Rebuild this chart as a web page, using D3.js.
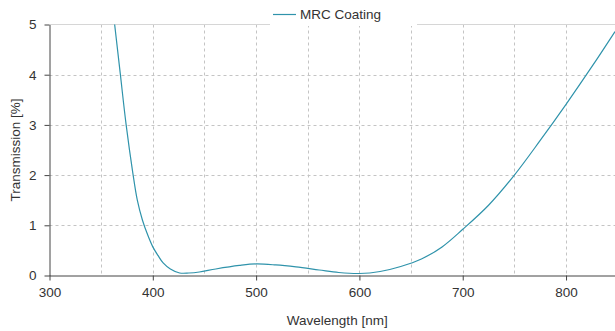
<!DOCTYPE html>
<html>
<head>
<meta charset="utf-8">
<script src="https://cdn.jsdelivr.net/npm/d3@7"></script>
<style>
  body { margin: 0; background: #fff; }
  svg { display: block; font-family: "Liberation Sans", Arial, sans-serif; }
  .grid line { stroke: #c4c4c4; stroke-dasharray: 3,3; }
  .tick text { fill: #333; font-size: 13.5px; }
</style>
</head>
<body>
<div class="container"></div>
<script>
const width = 615;
const height = 331;

// wavelength [nm] and transmission [%]
const wavelength = [362.9, 368.4, 374.2, 380.6, 385, 390, 395, 400, 405, 410, 417, 426, 435, 445, 461, 483.8, 500, 519, 538.6, 561, 580, 600, 620, 640, 660, 680, 700, 725, 750, 775, 800, 825, 847.4];
const transmission = [5.03, 4.04, 3.0, 2.05, 1.5, 1.1, 0.81, 0.57, 0.40, 0.25, 0.13, 0.05, 0.05, 0.07, 0.13, 0.20, 0.23, 0.21, 0.17, 0.11, 0.06, 0.04, 0.08, 0.18, 0.33, 0.57, 0.92, 1.4, 2.0, 2.69, 3.41, 4.16, 4.86];
const xTicks = [300, 400, 500, 600, 700, 800];
const xGrid = [350, 400, 450, 500, 550, 600, 650, 700, 750, 800];
const yTicks = [0, 1, 2, 3, 4, 5];
const yGrid = [1, 2, 3, 4];
const seriesName = "MRC Coating";

const points = wavelength.map((w, i) => ({ w, t: transmission[i] }));

const svg = d3.select(".container").append("svg").attr("width", width).attr("height", height);

const x = d3.scaleLinear().domain([300, 847.4]).range([49.5, 615]);
const y = d3.scaleLinear().domain([0, 5]).range([275.5, 24.5]);

// grid
const grid = svg.append("g").attr("class", "grid");
grid.selectAll(".gx").data(xGrid).enter().append("line")
    .attr("x1", d => Math.round(x(d)) + 0.5).attr("x2", d => Math.round(x(d)) + 0.5)
    .attr("y1", y(5)).attr("y2", y(0));
grid.selectAll(".gy").data(yGrid).enter().append("line")
    .attr("x1", x(300)).attr("x2", width)
    .attr("y1", d => Math.round(y(d)) + 0.5).attr("y2", d => Math.round(y(d)) + 0.5);

// top border
svg.append("line").attr("x1", x(300)).attr("x2", width)
    .attr("y1", y(5)).attr("y2", y(5)).attr("stroke", "#d6d6d6");

// curve
const line = d3.line().x(d => x(d.w)).y(d => y(d.t)).curve(d3.curveCatmullRom);
svg.append("defs").append("clipPath").attr("id", "clip")
    .append("rect").attr("x", x(300)).attr("y", y(5)).attr("width", width - x(300)).attr("height", y(0) - y(5));
svg.append("path").datum(points)
    .attr("clip-path", "url(#clip)")
    .attr("d", line)
    .attr("fill", "none")
    .attr("stroke", "#2f93ab")
    .attr("stroke-width", 1.2);

// axes
const xAxis = svg.append("g").attr("transform", `translate(0,${y(0)})`)
    .call(d3.axisBottom(x).tickValues(xTicks).tickSize(5).tickPadding(7).tickSizeOuter(0));
xAxis.select(".domain").attr("stroke", "#444").attr("d", `M${x(300)},0.5H${width}`);
xAxis.selectAll(".tick line").attr("stroke", "#444");

const yAxis = svg.append("g").attr("transform", `translate(${x(300)},0)`)
    .call(d3.axisLeft(y).tickValues(yTicks).tickFormat(d3.format("d")).tickSize(5).tickPadding(8).tickSizeOuter(0));
yAxis.select(".domain").attr("stroke", "#444");
yAxis.selectAll(".tick line").attr("stroke", "#444");

// axis titles
svg.append("text").attr("x", (x(300) + width) / 2 + 5).attr("y", 325)
    .attr("text-anchor", "middle").attr("fill", "#333").attr("font-size", 13.5)
    .text("Wavelength [nm]");
svg.append("text").attr("transform", `translate(20,${(y(0) + y(5)) / 2}) rotate(-90)`)
    .attr("text-anchor", "middle").attr("fill", "#333").attr("font-size", 13.5)
    .text("Transmission [%]");

// legend
const legend = svg.append("g");
legend.append("rect").attr("x", 270).attr("y", 5).attr("width", 147).attr("height", 21).attr("fill", "#fff");
legend.append("line").attr("x1", 273).attr("x2", 296).attr("y1", 14.5).attr("y2", 14.5)
    .attr("stroke", "#2f93ab").attr("stroke-width", 1.2);
legend.append("text").attr("x", 300).attr("y", 19).attr("fill", "#333").attr("font-size", 13.5)
    .text(seriesName);
</script>
</body>
</html>
